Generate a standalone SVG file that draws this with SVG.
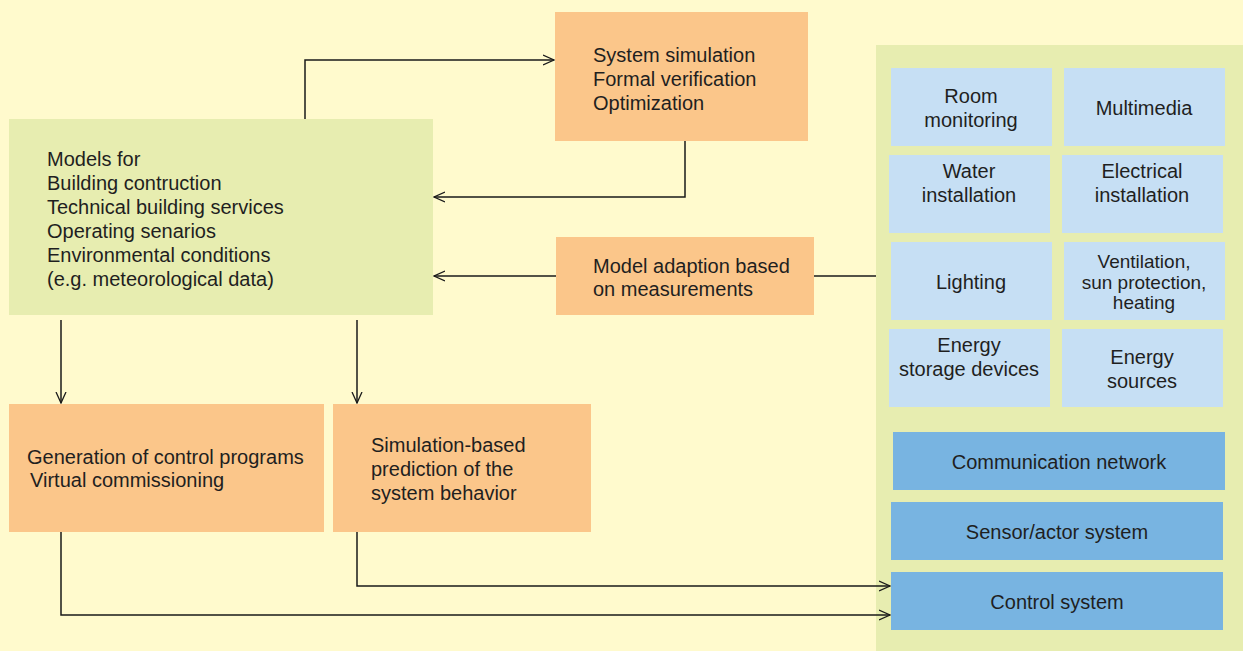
<svg xmlns="http://www.w3.org/2000/svg" width="1243" height="651" viewBox="0 0 1243 651">
<defs>
<marker id="arr" viewBox="0 0 12 12" refX="11" refY="6" markerWidth="12" markerHeight="12" markerUnits="userSpaceOnUse" orient="auto">
<path d="M0,1 L11,6 L0,11" fill="none" stroke="#1a1a1a" stroke-width="1.3"/>
</marker>
<style>
text{font-family:"Liberation Sans",Arial,sans-serif;font-size:20px;fill:#1f1f1f}
.c{text-anchor:middle}
.green{fill:#E7EDB0}
.orange{fill:#FBC68A}
.lblue{fill:#C6DFF4}
.blue{fill:#78B4E1}
.ln{fill:none;stroke:#1a1a1a;stroke-width:1.5}
</style>
</defs>
<rect x="0" y="0" width="1243" height="651" fill="#FFFACD"/>
<g id="panel"><rect class="green" x="876" y="45" width="367" height="606"/></g>
<g id="models">
<rect class="green" x="9" y="119" width="424" height="196"/>
<text x="47" y="166">Models for</text>
<text x="47" y="190">Building contruction</text>
<text x="47" y="214">Technical building services</text>
<text x="47" y="238">Operating senarios</text>
<text x="47" y="262">Environmental conditions</text>
<text x="47" y="286">(e.g. meteorological data)</text>
</g>
<g id="sim">
<rect class="orange" x="555" y="12" width="253" height="129"/>
<text x="593" y="62">System simulation</text>
<text x="593" y="86">Formal verification</text>
<text x="593" y="110">Optimization</text>
</g>
<g id="adapt">
<rect class="orange" x="556" y="237" width="258" height="78"/>
<text x="593" y="273">Model adaption based</text>
<text x="593" y="296">on measurements</text>
</g>
<g id="gen">
<rect class="orange" x="9" y="404" width="315" height="128"/>
<text x="27" y="464">Generation of control programs</text>
<text x="30" y="487">Virtual commissioning</text>
</g>
<g id="pred">
<rect class="orange" x="333" y="404" width="258" height="128"/>
<text x="371" y="452">Simulation-based</text>
<text x="371" y="476">prediction of the</text>
<text x="371" y="500">system behavior</text>
</g>
<g id="room"><rect class="lblue" x="891" y="68" width="161" height="78"/><text class="c" x="971" y="103">Room</text><text class="c" x="971" y="127">monitoring</text></g>
<g id="multimedia"><rect class="lblue" x="1064" y="68" width="161" height="78"/><text class="c" x="1144" y="115">Multimedia</text></g>
<g id="water"><rect class="lblue" x="889" y="155" width="161" height="78"/><text class="c" x="969" y="178">Water</text><text class="c" x="969" y="202">installation</text></g>
<g id="electrical"><rect class="lblue" x="1062" y="155" width="161" height="78"/><text class="c" x="1142" y="178">Electrical</text><text class="c" x="1142" y="202">installation</text></g>
<g id="lighting"><rect class="lblue" x="891" y="242" width="161" height="78"/><text class="c" x="971" y="289">Lighting</text></g>
<g id="ventilation"><rect class="lblue" x="1064" y="242" width="161" height="78"/><text class="c" x="1144" y="268" style="font-size:19px">Ventilation,</text><text class="c" x="1144" y="289" style="font-size:19px">sun protection,</text><text class="c" x="1144" y="309" style="font-size:19px">heating</text></g>
<g id="storage"><rect class="lblue" x="889" y="329" width="161" height="78"/><text class="c" x="969" y="352">Energy</text><text class="c" x="969" y="376">storage devices</text></g>
<g id="sources"><rect class="lblue" x="1062" y="329" width="161" height="78"/><text class="c" x="1142" y="364">Energy</text><text class="c" x="1142" y="388">sources</text></g>
<g id="comm"><rect class="blue" x="893" y="432" width="332" height="58"/><text class="c" x="1059" y="469">Communication network</text></g>
<g id="sensor"><rect class="blue" x="891" y="502" width="332" height="58"/><text class="c" x="1057" y="539">Sensor/actor system</text></g>
<g id="control"><rect class="blue" x="891" y="572" width="332" height="58"/><text class="c" x="1057" y="609">Control system</text></g>
<g id="connectors">
<polyline class="ln" points="305,119 305,60 554,60" marker-end="url(#arr)"/>
<polyline class="ln" points="685,141 685,197 434,197" marker-end="url(#arr)"/>
<line class="ln" x1="556" y1="276" x2="434" y2="276" marker-end="url(#arr)"/>
<line class="ln" x1="814" y1="276" x2="876" y2="276"/>
<line class="ln" x1="61" y1="320" x2="61" y2="403" marker-end="url(#arr)"/>
<line class="ln" x1="357" y1="320" x2="357" y2="403" marker-end="url(#arr)"/>
<polyline class="ln" points="357,532 357,586 890,586" marker-end="url(#arr)"/>
<polyline class="ln" points="61,532 61,615 890,615" marker-end="url(#arr)"/>
</g>
</svg>
